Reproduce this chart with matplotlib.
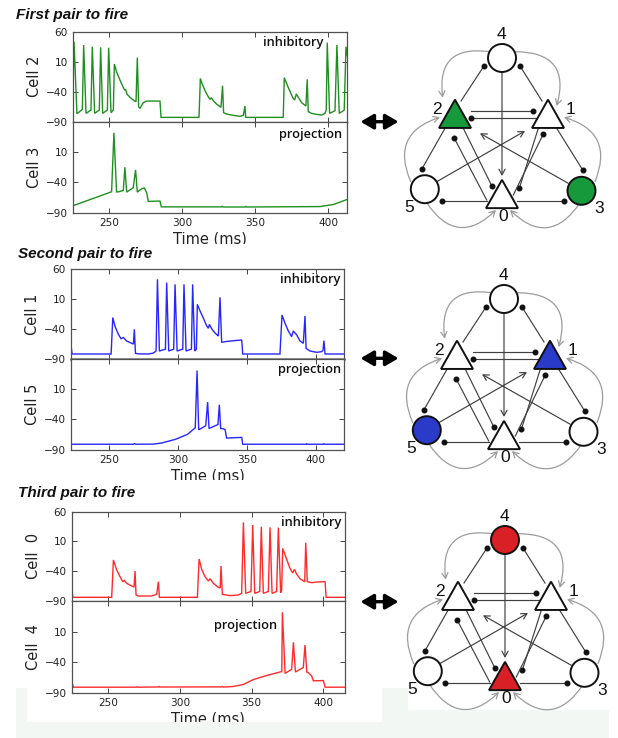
import matplotlib
matplotlib.use("Agg")
import matplotlib.pyplot as plt
from matplotlib.patches import Circle, Polygon, FancyArrowPatch, Rectangle
from matplotlib.transforms import Bbox

# ---------------- data: membrane potential traces (t [ms], V [mV]) ----------------
cell2 = [(225.2, -70.6), (226.1, 43.3), (228.1, -76.7), (231.8, -69.4), (232.7, 37.8), (234.3, -76.1),
         (237.7, -70.6), (238.6, 35.0), (240.2, -76.1), (243.4, -70.6), (244.3, 33.9), (245.7, -76.1),
         (248.9, -70.6), (249.8, 33.3), (251.4, -75.0), (253.0, -70.6), (253.7, 6.1), (255.2, -6.7),
         (257.5, -20.6), (259.8, -32.8), (260.7, -37.2), (261.4, -36.1), (262.3, -43.9), (264.4, -49.4),
         (266.6, -53.9), (268.5, -56.7), (269.4, 16.7), (270.3, -65.0), (271.2, -67.8), (273.5, -58.3),
         (275.8, -55.6), (284.9, -55.6), (285.6, -82.8), (311.6, -82.8), (312.5, -17.8), (313.6, -26.1),
         (315.7, -38.3), (317.9, -48.3), (319.1, -52.8), (320.0, -50.0), (321.4, -55.0), (323.6, -60.6),
         (326.6, -66.1), (327.7, -30.0), (328.4, -75.0), (330.5, -77.2), (335.0, -79.4), (339.6, -81.1),
         (341.9, -79.4), (343.0, -63.9), (343.5, -82.8), (369.2, -82.8), (369.9, -16.7), (372.6, -32.8),
         (375.6, -49.4), (377.0, -53.9), (378.1, -43.9), (379.5, -49.4), (381.8, -58.3), (384.7, -63.9),
         (385.6, -19.4), (386.3, -73.3), (388.6, -76.1), (392.0, -77.8), (395.4, -78.9), (397.7, -76.1),
         (398.6, -70.6), (399.3, 41.7), (400.9, -76.1), (404.6, -71.7), (405.9, 37.8), (407.5, -76.1),
         (410.3, -71.7), (410.9, -70.6), (412.1, 35.0), (413.0, 20.0)]
cell3 = [(225.2, -78.7), (251.8, -55.5), (253.4, 41.6), (255.2, -56.1), (257.5, -55.0), (259.8, -53.3),
         (260.9, -14.9), (262.1, -56.1), (266.6, -48.8), (268.2, -19.4), (269.4, -56.1), (271.2, -52.7),
         (273.0, -49.9), (274.2, -49.3), (275.8, -57.2), (276.9, -71.4), (284.9, -70.8), (285.8, -80.4),
         (327.0, -80.4), (327.5, -79.5), (328.0, -80.6), (343.0, -80.6), (343.5, -79.8), (344.0, -80.6),
         (394.3, -79.9), (403.4, -76.5), (412.6, -68.5)]
cell1 = [(221.9, -63.0), (222.9, -82.1), (251.3, -82.1), (252.5, -21.1), (254.2, -36.3), (256.6, -49.1),
         (258.5, -56.5), (260.2, -54.5), (262.6, -60.3), (266.3, -64.2), (267.5, -65.5), (268.2, -40.7),
         (269.0, -81.0), (271.1, -81.9), (278.4, -82.1), (282.0, -80.5), (284.0, -77.1), (285.0, 43.2),
         (286.4, -77.1), (290.8, -74.0), (291.7, 37.6), (293.2, -77.1), (296.8, -74.0), (297.8, 34.8),
         (299.3, -77.1), (303.4, -74.0), (304.3, 34.8), (305.8, -77.1), (309.7, -74.0), (310.6, 34.8),
         (312.1, -77.1), (313.3, -74.0), (314.0, 1.2), (316.0, -10.0), (318.4, -22.0), (320.8, -35.0),
         (322.0, -39.0), (322.8, -32.5), (324.5, -40.0), (326.9, -47.0), (329.3, -52.0), (330.5, 13.0),
         (331.7, -62.5), (334.2, -61.4), (340.2, -59.8), (346.3, -58.6), (347.0, -82.1), (374.1, -82.1),
         (375.6, -16.7), (377.8, -30.7), (380.2, -43.5), (382.6, -53.0), (383.8, -43.5), (386.3, -50.2),
         (388.7, -60.3), (391.1, -64.2), (392.3, -18.3), (393.1, -72.6), (396.0, -77.1), (400.8, -79.3),
         (404.4, -78.2), (405.4, -76.0), (406.1, -59.7), (406.9, -82.1), (421.0, -82.1)]
cell5 = [(221.9, -81.0), (267.5, -81.0), (268.2, -80.0), (269.2, -81.0), (282.0, -80.8), (288.0, -79.0),
         (298.0, -73.0), (307.0, -64.5), (312.5, -53.8), (313.8, 40.5), (315.0, -57.2), (320.1, -50.5),
         (321.5, -11.5), (322.5, -55.0), (329.0, -48.5), (330.0, -16.0), (331.0, -55.0), (333.0, -55.5),
         (334.2, -57.0), (335.3, -70.8), (346.3, -69.7), (347.0, -81.0), (393.0, -81.0), (393.5, -80.2),
         (394.0, -81.0), (405.5, -81.0), (406.0, -80.2), (406.5, -81.0), (421.0, -81.0)]
cell0 = [(224.4, -56.4), (225.1, -83.8), (252.3, -83.8), (253.5, -21.1), (255.8, -37.9), (258.1, -49.1),
         (260.0, -57.5), (261.2, -55.5), (262.8, -60.3), (266.3, -64.8), (267.9, -66.5), (268.6, -39.6),
         (269.3, -79.9), (270.9, -81.6), (280.0, -81.6), (283.7, -78.8), (284.9, -57.5), (285.6, -83.8),
         (312.1, -83.8), (313.3, -19.5), (315.1, -36.8), (317.4, -49.1), (319.8, -56.4), (320.9, -52.5),
         (323.3, -60.3), (326.7, -67.0), (328.0, -68.0), (328.6, -31.2), (329.5, -78.8), (334.9, -81.0),
         (340.7, -79.9), (343.0, -77.1), (344.2, 42.1), (345.8, -77.1), (349.5, -74.0), (350.7, 37.6),
         (352.1, -77.1), (355.6, -74.0), (356.7, 34.8), (358.1, -77.1), (361.6, -74.0), (362.8, 33.7),
         (364.2, -77.1), (367.4, -74.0), (368.6, 33.2), (370.2, -76.0), (370.9, -72.0), (371.6, -1.6),
         (374.4, -20.0), (376.7, -35.0), (378.6, -43.0), (379.8, -36.8), (381.4, -45.0), (383.7, -52.5),
         (386.0, -56.4), (387.0, -57.5), (387.7, 7.9), (388.8, -57.5), (391.9, -59.2), (395.4, -58.1),
         (401.2, -57.5), (401.9, -83.8), (415.1, -83.8)]
cell4 = [(224.4, -72.0), (225.6, -81.0), (269.8, -81.0), (270.3, -80.2), (270.9, -81.0), (284.9, -80.6),
         (285.4, -79.8), (286.0, -80.7), (329.1, -80.5), (329.6, -79.8), (330.2, -80.8), (337.2, -79.8),
         (344.2, -76.5), (351.2, -68.5), (360.5, -61.8), (369.8, -56.1), (371.0, -55.5), (371.4, 41.6),
         (373.3, -58.4), (377.9, -51.6), (379.1, -7.5), (380.5, -56.1), (386.0, -48.8), (387.2, -12.0),
         (388.4, -56.1), (389.5, -57.2), (391.9, -62.9), (393.0, -70.5), (400.0, -70.2), (401.2, -81.0),
         (415.1, -81.0)]

panel_titles = ["First pair to fire", "Second pair to fire", "Third pair to fire"]
inh_traces = [cell2, cell1, cell0]
proj_traces = [cell3, cell5, cell4]
inh_names = ["Cell 2", "Cell 1", "Cell  0"]
proj_names = ["Cell 3", "Cell 5", "Cell  4"]
trace_colors = ["#1f8f1f", "#2626ff", "#ff2a2a"]
node_colors = ["#16993b", "#2a3ac9", "#d92026"]
active_nodes = [(2, 3), (1, 5), (4, 0)]
xlims = [(225.2, 412.6), (221.9, 420.9), (224.4, 415.1)]
xticks = [250, 300, 350, 400]
yticks_top = [-90, -40, 10, 60]
yticks_bot = [-90, -40, 10]
ylim = (-90, 60)
xlabel = "Time (ms)"
inh_label, proj_label = "inhibitory", "projection"

# network (local pixel coords of one diagram)
circle_nodes = {4: (142.0, 58.0), 5: (64.8, 189.2), 3: (221.5, 190.8)}
tri_nodes = {2: (95.0, 113.8), 1: (188.0, 113.8), 0: (142.0, 194.0)}
node_labels = {4: (141.7, 34.8), 2: (77.3, 109.5), 1: (210.7, 109.5), 5: (49.0, 207.0),
               3: (238.8, 208.8), 0: (142.8, 216.8)}
inh_edges = [(101, 101, 124, 66), (182, 101, 160, 66), (110.7, 110.7, 173.3, 110.7),
             (176, 118.3, 110.7, 118.3), (85, 128.3, 61.7, 169.3), (196.7, 128.3, 222.7, 170),
             (103.3, 128.3, 131.7, 185.7), (126.7, 200, 94, 137.7), (178.3, 128.3, 159.3, 188.3),
             (153.3, 195, 183.3, 134), (127, 201, 81.7, 201), (157, 201, 204, 201)]
exc_edges = [(142.0, 72, 142.0, 176), (76.7, 181.7, 165, 131), (208.3, 183.3, 120, 133.3)]
curve_edges = [(129.3, 51.7, 82.7, 97.7, 0.65), (155.7, 51.7, 196.7, 106, -0.65),
               (50.7, 181.7, 80, 117.3, -0.55), (235, 181.7, 204, 117.3, 0.55),
               (66.7, 202.7, 136, 210, 0.6), (220, 202.7, 150, 210, -0.6)]

# ---------------- layout (pixels) ----------------
W, H = 618, 738
panel_box = [(72.7, 346.7, 31.7, 121.7, 212.7), (70.7, 344.3, 269.3, 358.7, 449.7),
             (71.7, 345.0, 511.7, 601.0, 692.7)]
divider_lw = [0.9, 1.8, 0.9]
title_pos = [(16, 19.3), (18, 257.7), (18, 497.3)]
xlabel_clip = [244, 480, 722]
inh_lab_pos = [(0.915, 0.882), (0.984, 0.888), (0.988, 0.877)]
proj_lab_pos = [(0.985, 0.862), (0.987, 0.884), (0.750, 0.731)]
diag_origin = [(360, 0), (362, 241), (363, 482)]
arrow_x = (360.5, 398.5)
arrow_y = [121.7, 358.3, 601.7]

NARROW = ["Liberation Sans Narrow", "Liberation Sans", "DejaVu Sans"]
HUM = ["Open Sans", "DejaVu Sans"]

fig = plt.figure(figsize=(W / 100, H / 100), dpi=100)
fig.patch.set_facecolor("white")


def frac(x0, y0, x1, y1):
    return [x0 / W, 1 - y1 / H, (x1 - x0) / W, (y1 - y0) / H]


def rect(x0, y0, x1, y1, color, z):
    fig.add_artist(Rectangle((x0 / W, 1 - y1 / H), (x1 - x0) / W, (y1 - y0) / H,
                             transform=fig.transFigure, facecolor=color, edgecolor="none", zorder=z))


rect(16, 688, 609, 738, "#f3f7f3", -10)
rect(27, 688, 382, 722, "white", -9)
rect(408, 688, 609, 710, "white", -9)

for i in range(3):
    L, R, T, M, B = panel_box[i]
    ax_t = fig.add_axes(frac(L, T, R, M))
    ax_b = fig.add_axes(frac(L, M, R, B))
    for ax, tr, name, yt in ((ax_t, inh_traces[i], inh_names[i], yticks_top),
                             (ax_b, proj_traces[i], proj_names[i], yticks_bot)):
        t = [p[0] for p in tr]
        v = [p[1] for p in tr]
        ax.plot(t, v, color=trace_colors[i], lw=1.0, solid_joinstyle="miter")
        ax.set_xlim(*xlims[i])
        ax.set_ylim(*ylim)
        ax.set_xticks(xticks)
        ax.set_yticks(yt)
        ax.tick_params(direction="in", top=True, right=True, length=3.5, width=0.7,
                       labelsize=7.6, pad=3.5, color="#444", labelcolor="#222")
        for s in ax.spines.values():
            s.set_color("#505050")
            s.set_linewidth(0.9)
        ax.set_ylabel(name, fontsize=10.5, color="#222", labelpad=2.5)
    ax_t.spines["bottom"].set_linewidth(divider_lw[i])
    ax_t.spines["bottom"].set_color("#707070" if divider_lw[i] > 1 else "#505050")
    ax_t.tick_params(labelbottom=False)
    ax_t.text(*inh_lab_pos[i], inh_label, transform=ax_t.transAxes, ha="right", va="center",
              fontsize=9.3, family=HUM, weight="semibold", color="#111")
    ax_b.text(*proj_lab_pos[i], proj_label, transform=ax_b.transAxes, ha="right", va="center",
              fontsize=9.3, family=HUM, weight="semibold", color="#111")
    ax_b.set_xlabel(xlabel, fontsize=10.5, color="#222", labelpad=3)
    lab = ax_b.xaxis.label
    lab.set_clip_box(Bbox.from_extents(0, H - xlabel_clip[i], W, H))
    lab.set_clip_on(True)
    fig.text(title_pos[i][0] / W, 1 - title_pos[i][1] / H, panel_titles[i], fontsize=11,
             weight="bold", style="italic", family=NARROW, va="baseline", color="#111")

# ---------------- network diagrams ----------------
TRI_W, TRI_H, R_CIRC = 32.0, 28.3, 14.0
for i in range(3):
    ox, oy = diag_origin[i]
    ax = fig.add_axes(frac(ox - 5, oy, ox + 258, oy + 245))
    ax.set_xlim(-5, 258)
    ax.set_ylim(245, 0)
    ax.axis("off")
    for (x0, y0, x1, y1, rad) in curve_edges:
        ax.add_patch(FancyArrowPatch((x0, y0), (x1, y1), connectionstyle=f"arc3,rad={rad}",
                                     arrowstyle="->,head_length=0.4,head_width=0.22", mutation_scale=10,
                                     color="#9c9c9c", lw=0.9, shrinkA=0, shrinkB=0, zorder=1))
    for (x0, y0, x1, y1) in inh_edges:
        ax.plot([x0, x1], [y0, y1], color="#404040", lw=0.85, zorder=2)
        ax.plot([x1], [y1], "o", ms=3.3, color="#111", zorder=2)
    for (x0, y0, x1, y1) in exc_edges:
        ax.add_patch(FancyArrowPatch((x0, y0), (x1, y1), arrowstyle="->,head_length=0.4,head_width=0.22",
                                     mutation_scale=10, color="#404040", lw=0.85, shrinkA=0, shrinkB=0,
                                     zorder=2))
    for n, (x, y) in circle_nodes.items():
        fc = node_colors[i] if n in active_nodes[i] else "white"
        ax.add_patch(Circle((x, y), R_CIRC, facecolor=fc, edgecolor="#111", lw=1.4, zorder=3))
    for n, (x, y) in tri_nodes.items():
        fc = node_colors[i] if n in active_nodes[i] else "white"
        ax.add_patch(Polygon([(x, y - TRI_H / 2), (x - TRI_W / 2, y + TRI_H / 2), (x + TRI_W / 2, y + TRI_H / 2)],
                             closed=True, facecolor=fc, edgecolor="#111", lw=1.4, zorder=3,
                             joinstyle="miter"))
    for n, (x, y) in node_labels.items():
        ax.text(x, y, str(n), ha="center", va="center", fontsize=12.5, family=NARROW, color="#111",
                zorder=4)
    ax.add_patch(FancyArrowPatch((arrow_x[0] - ox, arrow_y[i] - oy), (arrow_x[1] - ox, arrow_y[i] - oy),
                                 arrowstyle="<|-|>,head_length=0.55,head_width=0.32", mutation_scale=14,
                                 color="black", lw=2.4, shrinkA=0, shrinkB=0, clip_on=False, zorder=5))

fig.savefig("out.png", dpi=100, facecolor="white")
